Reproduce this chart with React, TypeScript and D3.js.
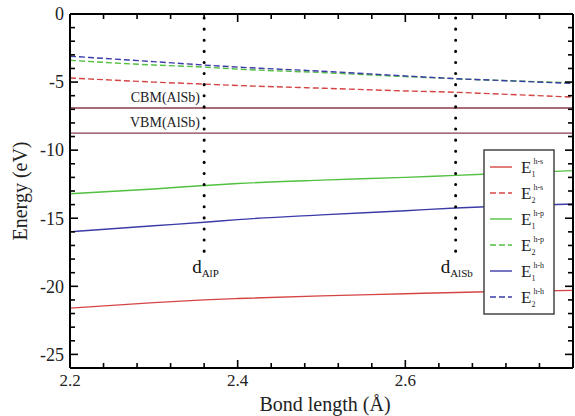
import * as d3 from 'd3'

const bondLength = [2.2, 2.3, 2.36, 2.4, 2.5, 2.6, 2.66, 2.7, 2.8]

const e1hs = [-21.6, -21.2, -21.0, -20.9, -20.7, -20.55, -20.45, -20.4, -20.3]
const e2hs = [-4.7, -5.0, -5.15, -5.25, -5.45, -5.65, -5.75, -5.85, -6.1]
const e1hp = [-13.2, -12.85, -12.6, -12.45, -12.2, -12.0, -11.85, -11.75, -11.5]
const e2hp = [-3.4, -3.75, -3.9, -4.05, -4.3, -4.6, -4.75, -4.85, -5.05]
const e1hh = [-16.0, -15.55, -15.3, -15.1, -14.75, -14.45, -14.25, -14.15, -13.95]
const e2hh = [-3.1, -3.5, -3.75, -3.9, -4.2, -4.55, -4.75, -4.85, -5.1]

const cbm = -6.9
const vbm = -8.75
const dAlP = 2.36
const dAlSb = 2.66

const xTicks = [2.2, 2.4, 2.6]
const yTicks = [0, -5, -10, -15, -20, -25]

const series = [
  { name: 'h-s', sub: '1', values: e1hs, color: '#d64545', dashed: false },
  { name: 'h-s', sub: '2', values: e2hs, color: '#d64545', dashed: true },
  { name: 'h-p', sub: '1', values: e1hp, color: '#52c040', dashed: false },
  { name: 'h-p', sub: '2', values: e2hp, color: '#52c040', dashed: true },
  { name: 'h-h', sub: '1', values: e1hh, color: '#3c3ca8', dashed: false },
  { name: 'h-h', sub: '2', values: e2hh, color: '#3c3ca8', dashed: true },
]

const W = 575
const H = 416
const margin = { top: 14, right: 2, bottom: 48, left: 70 }
const serif = { fontFamily: "'Liberation Serif', 'Times New Roman', 'DejaVu Serif', serif" }

export default function App() {
  const x = d3.scaleLinear().domain([2.2, 2.8]).range([margin.left, W - margin.right])
  const y = d3.scaleLinear().domain([-26, 0]).range([H - margin.bottom, margin.top])
  const left = margin.left
  const right = W - margin.right
  const top = margin.top
  const bottom = H - margin.bottom

  const line = (vals: number[]) =>
    d3.line<number>()
      .x((_, i) => x(bondLength[i]))
      .y(d => y(d))
      .curve(d3.curveMonotoneX)(vals) ?? ''

  // minor ticks every 0.04 Å and every 1 eV
  const xMinor = d3.range(0, 16).map(i => 2.2 + i * 0.04)
  const yMinor = d3.range(0, 27).map(i => -i)

  const legend = { x: 484, y: 150, w: 70, h: 164, row: 26 }

  return (
    <div style={{ position: 'fixed', left: 0, top: 0 }}>
      <svg width={W} height={H} style={{ display: 'block', background: '#fff', ...serif }}>
        {/* data lines */}
        {series.map((s, i) => (
          <path key={i} d={line(s.values)} fill="none" stroke={s.color} strokeWidth={1.4}
            strokeDasharray={s.dashed ? '6,3' : undefined} />
        ))}
        {/* band edges */}
        {[cbm, vbm].map((v, i) => (
          <line key={i} x1={left} x2={right} y1={y(v)} y2={y(v)} stroke="#8a3a4c" strokeWidth={1.4} />
        ))}
        <text x={200} y={y(cbm) - 6} textAnchor="end" style={serif} fontSize={14} fill="#222">CBM(AlSb)</text>
        <text x={200} y={y(vbm) - 6} textAnchor="end" style={serif} fontSize={14} fill="#222">VBM(AlSb)</text>

        {/* lattice constant markers */}
        {[dAlP, dAlSb].map((d, i) => (
          <line key={i} x1={x(d)} x2={x(d)} y1={top + 4} y2={257} stroke="#000" strokeWidth={3}
            strokeDasharray="0.1,11" strokeLinecap="round" />
        ))}
        <text x={x(dAlP) - 12} y={273} style={serif} fontSize={19} fill="#111">
          d<tspan fontSize={11} dy={4}>AlP</tspan>
        </text>
        <text x={x(dAlSb) - 15} y={273} style={serif} fontSize={19} fill="#111">
          d<tspan fontSize={11} dy={4}>AlSb</tspan>
        </text>

        {/* legend */}
        <rect x={legend.x} y={legend.y} width={legend.w} height={legend.h} fill="#fff" stroke="#444" strokeWidth={1.5} />
        {series.map((s, i) => {
          const ly = legend.y + 17 + i * legend.row
          return (
            <g key={i}>
              <line x1={legend.x + 6} x2={legend.x + 28} y1={ly} y2={ly} stroke={s.color} strokeWidth={1.4}
                strokeDasharray={s.dashed ? '6,3' : undefined} />
              <text x={legend.x + 37} y={ly + 6} style={serif} fontSize={17} fill="#222">
                E<tspan fontSize={8} dy={4}>{s.sub}</tspan>
                <tspan fontSize={8} dx={-2} dy={-13}>{s.name}</tspan>
              </text>
            </g>
          )
        })}

        {/* frame and ticks */}
        <line x1={left} x2={right} y1={bottom} y2={bottom} stroke="#000" strokeWidth={2} />
        <line x1={left} x2={right} y1={top} y2={top} stroke="#000" strokeWidth={2} />
        <line x1={left} x2={left} y1={top} y2={bottom} stroke="#000" strokeWidth={2} />
        <line x1={right} x2={right} y1={top} y2={bottom} stroke="#000" strokeWidth={2} />
        {xMinor.map((t, i) => {
          const len = xTicks.some(m => Math.abs(m - t) < 1e-6) ? 8 : 5
          return (
            <g key={'x' + i}>
              <line x1={x(t)} x2={x(t)} y1={bottom} y2={bottom - len} stroke="#000" strokeWidth={1.6} />
              <line x1={x(t)} x2={x(t)} y1={top} y2={top + len} stroke="#000" strokeWidth={1.6} />
            </g>
          )
        })}
        {yMinor.map((t, i) => {
          const len = yTicks.includes(t) ? 8 : 5
          return (
            <g key={'y' + i}>
              <line x1={left} x2={left + len} y1={y(t)} y2={y(t)} stroke="#000" strokeWidth={1.6} />
              <line x1={right} x2={right - len} y1={y(t)} y2={y(t)} stroke="#000" strokeWidth={1.6} />
            </g>
          )
        })}
        {xTicks.map(t => (
          <text key={t} x={x(t)} y={bottom + 18} textAnchor="middle" style={serif} fontSize={17} fill="#222">
            {t.toFixed(1)}
          </text>
        ))}
        {yTicks.map(t => (
          <text key={t} x={left - 6} y={y(t)} dy="0.35em" textAnchor="end" style={serif} fontSize={18} fill="#222">
            {t}
          </text>
        ))}
        <text x={325} y={411} textAnchor="middle" style={serif} fontSize={20} fill="#222">Bond length (Å)</text>
        <text transform={`translate(27,${(top + bottom) / 2}) rotate(-90)`} textAnchor="middle" style={serif}
          fontSize={20} fill="#222">Energy (eV)</text>
      </svg>
    </div>
  )
}
